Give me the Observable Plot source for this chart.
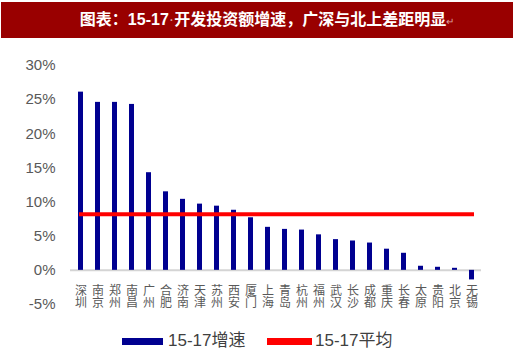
<!DOCTYPE html>
<html><head><meta charset="utf-8">
<script src="https://cdn.jsdelivr.net/npm/d3@7"></script>
<script src="https://cdn.jsdelivr.net/npm/@observablehq/plot@0.6"></script>
<style>
body{margin:0;background:#fff;}
#wrap{position:relative;width:520px;height:352px;overflow:hidden;font-family:"Liberation Sans","Noto Sans CJK SC",sans-serif;}
#title{position:absolute;left:1px;top:2px;width:492px;padding-left:20px;height:36px;background:#990000;color:#fff;font-weight:bold;font-size:16px;line-height:36px;text-align:center;white-space:nowrap;font-family:"Liberation Sans","Noto Sans CJK SC",sans-serif;}
#title .mk{font-weight:normal;font-size:10px;color:#d9a0a0;}
#title .dot{font-weight:normal;color:#d9a0a0;}
#chart{position:absolute;left:0;top:40px;}
.sw{position:absolute;height:7px;top:338px;}
.lt{position:absolute;top:331px;font-size:17px;color:#404040;line-height:20px;white-space:nowrap;}
</style></head>
<body>
<div id="wrap">
  <div id="title">图表：15-17<span class="dot">·</span>开发投资额增速，广深与北上差距明显<span class="mk">↵</span></div>
  <div id="chart"></div>
  <div class="sw" style="left:122px;width:41px;background:#000090;"></div>
  <div class="lt" style="left:168px;">15-17增速</div>
  <div class="sw" style="left:267px;width:45px;background:#ff0000;"></div>
  <div class="lt" style="left:315px;">15-17平均</div>
</div>
<script>
const cities = ["深圳","南京","郑州","南昌","广州","合肥","济南","天津","苏州","西安","厦门","上海","青岛","杭州","福州","武汉","长沙","成都","重庆","长春","太原","贵阳","北京","无锡"];
const growth = [26.1,24.6,24.6,24.3,14.3,11.5,10.4,9.7,9.4,8.8,7.7,6.3,6.0,5.9,5.2,4.5,4.3,4.0,3.1,2.5,0.6,0.45,0.3,-1.4];
const average = 8.2;
const yTicks = [-5,0,5,10,15,20,25,30];

const data = cities.map((c,i)=>({city:c, value:growth[i]}));

const chart = Plot.plot({
  width: 520,
  height: 275,
  marginTop: 25,
  marginBottom: 11,
  marginLeft: 70,
  marginRight: 39,
  style: {fontSize: "15px", color: "#595959", fontFamily: "Liberation Sans, Noto Sans CJK SC, sans-serif", background: "transparent"},
  x: {type: "band", domain: cities, padding: 0, axis: null},
  y: {domain: [-5, 30], ticks: yTicks, tickFormat: d => d + "%", tickSize: 0, tickPadding: 15, label: null},
  marks: [
    Plot.ruleY([0], {stroke: "#d4d4d4", strokeWidth: 2}),
    Plot.barY(data, {x: "city", y: "value", fill: "#000090", insetLeft: 6, insetRight: 6}),
    Plot.lineY(cities, {x: d => d, y: () => average, stroke: "#ff0000", strokeWidth: 4, strokeLinecap: "square"}),
    Plot.text(cities, {x: d => d, y: 0, text: d => d, textAnchor: "start", dy: 10, fontSize: 12, fill: "#595959", fontFamily: "Noto Sans CJK SC", className: "xlab"})
  ]
});
chart.querySelectorAll("text").forEach(t => {
  const g = t.closest("g");
  if (g && g.getAttribute("aria-label") === "text") {
    t.style.writingMode = "vertical-rl";
    t.style.textOrientation = "upright";
    t.removeAttribute("dy");
  }
});
document.getElementById("chart").appendChild(chart);
</script>
</body></html>
